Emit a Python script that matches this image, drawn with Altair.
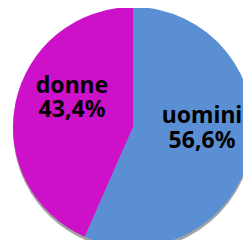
import altair as alt
import pandas as pd

categories = ["uomini", "donne"]
values = [56.6, 43.4]
pct_labels = ["56,6%", "43,4%"]
colors = ["#5B8FD4", "#CC11C8"]

df = pd.DataFrame({
    "cat": categories,
    "val": values,
    "pct": pct_labels,
    "ord": list(range(len(categories))),
})

cx, cy, r = 125, 119, 120

base = alt.Chart(df)

shadow = base.mark_arc(outerRadius=r, color="#333333", opacity=0.45).encode(
    theta=alt.Theta("val:Q", stack=True),
    order=alt.Order("ord:Q"),
    x=alt.value(cx), y=alt.value(cy + 3),
)

pie = base.mark_arc(outerRadius=r).encode(
    theta=alt.Theta("val:Q", stack=True),
    order=alt.Order("ord:Q"),
    color=alt.Color("cat:N", scale=alt.Scale(domain=categories, range=colors), legend=None),
    x=alt.value(cx), y=alt.value(cy),
)

def label(cat, field, x, y):
    return base.transform_filter(alt.datum.cat == cat).mark_text(
        font="Noto Sans", fontWeight="bold", fontSize=23, color="#000000",
        align="center", baseline="alphabetic",
    ).encode(text=f"{field}:N", x=alt.value(x), y=alt.value(y))

chart = alt.layer(
    shadow, pie,
    label("donne", "cat", 64, 85), label("donne", "pct", 64, 109),
    label("uomini", "cat", 194, 115), label("uomini", "pct", 194, 140),
).properties(
    width=235, height=232,
    autosize=alt.AutoSizeParams(type="none"),
    padding=0,
).configure_view(stroke=None)

chart.save("out.html", embed_options={"renderer": "svg", "actions": False})
